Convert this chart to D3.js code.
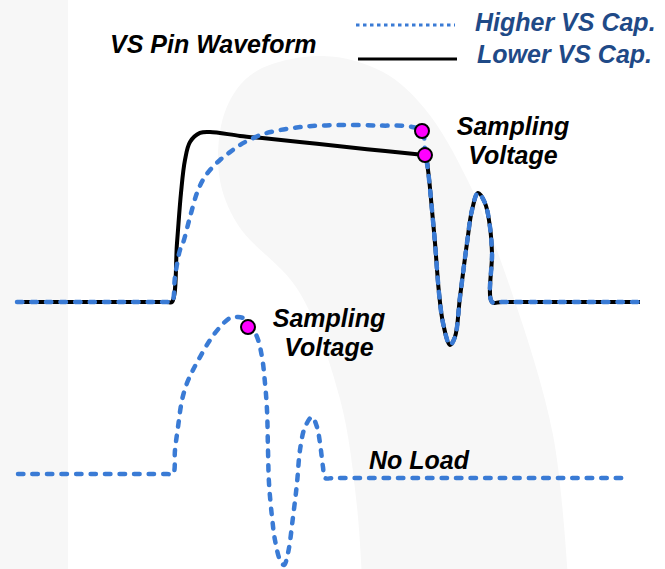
<!DOCTYPE html>
<html>
<head>
<meta charset="utf-8">
<script src="https://cdn.jsdelivr.net/npm/d3@7"></script>
<style>
  body { margin: 0; background: #fff; }
  text { font-family: "Liberation Sans", Arial, sans-serif; font-weight: bold; font-style: italic; }
</style>
</head>
<body>
<div id="chart"></div>
<script>
// time (us) / voltage (V) pairs
var lowCapRise = [[0, 0], [3, 0], [6.0, 0], [6.2, 0], [6.4, 2.4], [6.56, 4.44], [6.72, 5.78],
  [6.92, 6.51], [7.32, 6.88], [7.72, 6.92], [8.92, 6.76], [10.0, 6.65], [12.0, 6.44],
  [14.0, 6.22], [16.0, 6.01], [16.32, 5.98]];
var highCapRise = [[0, 0], [3, 0], [6.0, 0], [6.2, 0], [6.32, 1.02], [6.52, 2.12], [6.64, 2.4],
  [6.92, 3.46], [7.2, 4.44], [7.44, 4.97], [7.72, 5.37], [8.12, 5.78], [8.52, 6.1],
  [8.92, 6.39], [9.44, 6.67], [10.0, 6.88], [11.32, 7.12], [12.92, 7.2], [14.52, 7.18],
  [15.72, 7.14], [16.2, 6.96], [16.32, 6.19], [16.36, 5.9]];
var ringing = [[16.44, 5.37], [16.6, 3.74], [16.72, 2.4], [16.88, 0.37], [17.04, -0.85],
  [17.32, -1.75], [17.52, -1.42], [17.72, 0.2], [18.0, 2.4], [18.2, 3.74], [18.44, 4.44],
  [18.72, 4.03], [18.92, 3.05], [19.0, 1.99], [19.0, 0], [19.4, 0], [24.92, 0]];
var noLoad = [[0.04, 0], [3, 0], [6.0, 0], [6.24, 0], [6.32, 0.98], [6.44, 1.91], [6.6, 3.01],
  [6.8, 3.7], [7.04, 4.23], [7.32, 4.76], [7.72, 5.45], [8.12, 5.98], [8.52, 6.35],
  [8.84, 6.39], [9.2, 6.27], [9.6, 5.58], [9.8, 4.76], [9.92, 3.7], [10.0, 2.6], [10.04, 0.98],
  [10.08, -0.37], [10.2, -1.75], [10.32, -2.69], [10.52, -3.5], [10.68, -3.7],
  [10.84, -3.22], [11.04, -1.75], [11.2, -0.37], [11.32, 0.98], [11.52, 1.91],
  [11.8, 2.32], [12.0, 1.91], [12.12, 1.26], [12.24, 0.28], [12.32, -0.16], [12.7, -0.16],
  [24.44, -0.16]];
var sampleTop = [[16.2, 6.96], [16.32, 5.98]];
var sampleBottom = [[9.24, 5.98]];
var legendLabels = ["Higher VS Cap.", "Lower VS Cap."];

var width = 665, height = 569;
var blue = "#3a7bd5", navy = "#1f4a87";

var svg = d3.select("#chart").append("svg")
    .attr("width", width)
    .attr("height", height);

// faint background shapes
svg.append("rect").attr("x", 0).attr("y", 0).attr("width", 68).attr("height", height).attr("fill", "#f7f7f7");
var blob = [[362, 580], [357, 507], [340, 399], [298, 290], [238, 225], [219, 174], [226, 109],
  [255, 72], [323, 56], [383, 72], [425, 109], [468, 181], [511, 290], [553, 435], [568, 580]];
svg.append("path")
    .attr("d", d3.line().curve(d3.curveCatmullRom.alpha(0.5))(blob) + "Z")
    .attr("fill", "#f7f7f7");

var x = d3.scaleLinear().domain([0, 25]).range([17, 642]);
var yTop = d3.scaleLinear().domain([0, 7]).range([302, 130]);
var yBot = d3.scaleLinear().domain([0, 7]).range([474, 302]);

function wave(y) {
  return d3.line()
    .x(function (d) { return x(d[0]); })
    .y(function (d) { return y(d[1]); })
    .curve(d3.curveCatmullRom.alpha(0.5));
}

// lower VS cap (solid black)
svg.append("path")
    .attr("d", wave(yTop)(lowCapRise.concat(ringing)))
    .attr("fill", "none").attr("stroke", "#000").attr("stroke-width", 4);

// higher VS cap (blue dashed)
svg.append("path")
    .attr("d", wave(yTop)(highCapRise.concat(ringing)))
    .attr("fill", "none").attr("stroke", blue).attr("stroke-width", 4.5)
    .attr("stroke-dasharray", "5.5,9").attr("stroke-linecap", "round");

// no load
svg.append("path")
    .attr("d", wave(yBot)(noLoad))
    .attr("fill", "none").attr("stroke", blue).attr("stroke-width", 4.5)
    .attr("stroke-dasharray", "5.5,9").attr("stroke-linecap", "round");

// sampling points
svg.selectAll(".dotTop").data(sampleTop).enter().append("circle")
    .attr("cx", function (d) { return x(d[0]); })
    .attr("cy", function (d) { return yTop(d[1]); })
    .attr("r", 7).attr("fill", "#ff00ff").attr("stroke", "#000").attr("stroke-width", 2);
svg.selectAll(".dotBot").data(sampleBottom).enter().append("circle")
    .attr("cx", function (d) { return x(d[0]); })
    .attr("cy", function (d) { return yBot(d[1]); })
    .attr("r", 7).attr("fill", "#ff00ff").attr("stroke", "#000").attr("stroke-width", 2);

// legend
svg.append("line").attr("x1", 356).attr("x2", 455).attr("y1", 25).attr("y2", 25)
    .attr("stroke", blue).attr("stroke-width", 3).attr("stroke-dasharray", "3.5,3.5");
svg.append("line").attr("x1", 358).attr("x2", 457).attr("y1", 59).attr("y2", 59)
    .attr("stroke", "#000").attr("stroke-width", 3);
svg.selectAll(".leg").data(legendLabels).enter().append("text")
    .attr("x", function (d, i) { return i ? 477 : 475; })
    .attr("y", function (d, i) { return i ? 63 : 31; })
    .attr("font-size", 25).attr("fill", navy)
    .text(function (d) { return d; });

// labels
function label(txt, px, py, anchor) {
  svg.append("text").attr("x", px).attr("y", py).attr("font-size", 25)
      .attr("text-anchor", anchor || "start").attr("fill", "#000").text(txt);
}
label("VS Pin Waveform", 110, 53);
label("Sampling", 513, 135, "middle");
label("Voltage", 513, 164, "middle");
label("Sampling", 329, 327, "middle");
label("Voltage", 329, 356, "middle");
label("No Load", 369, 469);
</script>
</body>
</html>
